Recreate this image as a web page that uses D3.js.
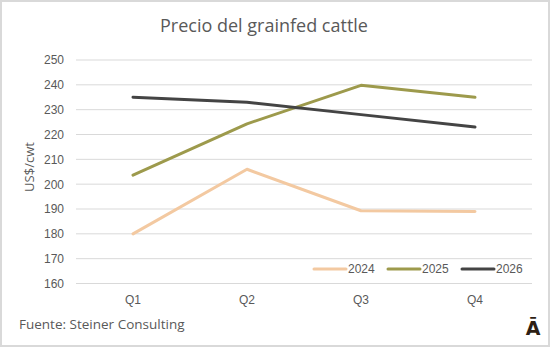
<!DOCTYPE html>
<html>
<head>
<meta charset="utf-8">
<script src="https://cdn.jsdelivr.net/npm/d3@7"></script>
<style>
  body { margin: 0; background: #fff; }
  svg { display: block; font-family: "Open Sans", "Noto Sans", sans-serif; }
</style>
</head>
<body>
<div id="chart"></div>
<script>
// chart values
var quarters = ["Q1", "Q2", "Q3", "Q4"];
var seriesNames = ["2024", "2025", "2026"];
var values2024 = [180, 206, 189.3, 189];
var values2025 = [203.6, 224.3, 239.8, 235];
var values2026 = [235, 233, 228, 223];
var yTicks = [160, 170, 180, 190, 200, 210, 220, 230, 240, 250];

var colors = ["#f3c9a1", "#9d9a4c", "#444444"];
var allValues = [values2024, values2025, values2026];

var width = 550, height = 347;
var svg = d3.select("#chart").append("svg")
    .attr("width", width)
    .attr("height", height);

// frame
svg.append("rect")
    .attr("x", 1).attr("y", 1)
    .attr("width", width - 2).attr("height", height - 2)
    .attr("fill", "#fff")
    .attr("stroke", "#d9d9d9")
    .attr("stroke-width", 2);

var x = d3.scaleBand().domain(quarters).range([76, 532]);
var y = d3.scaleLinear().domain([160, 250]).range([283.5, 60]);

// gridlines
svg.append("g").selectAll("line")
    .data(yTicks)
    .enter().append("line")
      .attr("x1", 76).attr("x2", 532)
      .attr("y1", function(d) { return y(d); })
      .attr("y2", function(d) { return y(d); })
      .attr("stroke", "#d9d9d9")
      .attr("stroke-width", 1);

// y axis labels
var yAxis = d3.axisLeft(y).tickValues(yTicks).tickSize(0).tickPadding(12);
var gy = svg.append("g").attr("transform", "translate(76,0)").call(yAxis);
gy.select(".domain").remove();
gy.selectAll("text")
    .attr("fill", "#595959")
    .style("font-size", "12px")
    .style("font-family", "Liberation Sans, Arial, sans-serif");

// x axis labels
var xAxis = d3.axisBottom(x).tickSize(0).tickPadding(11);
var gx = svg.append("g").attr("transform", "translate(0,284)").call(xAxis);
gx.select(".domain").remove();
gx.selectAll("text")
    .attr("fill", "#595959")
    .style("font-size", "12px")
    .style("font-family", "Liberation Sans, Arial, sans-serif");

// lines
var line = d3.line()
    .x(function(d, i) { return x(quarters[i]) + x.bandwidth() / 2; })
    .y(function(d) { return y(d); });

svg.append("g").selectAll("path")
    .data(allValues)
    .enter().append("path")
      .attr("d", line)
      .attr("fill", "none")
      .attr("stroke", function(d, i) { return colors[i]; })
      .attr("stroke-width", 3)
      .attr("stroke-linejoin", "round")
      .attr("stroke-linecap", "round");

// legend
var legend = svg.append("g").attr("transform", "translate(314,269)");
var item = legend.selectAll("g")
    .data(seriesNames)
    .enter().append("g")
      .attr("transform", function(d, i) { return "translate(" + (i * 74) + ",0)"; });
item.append("line")
    .attr("x1", 0).attr("x2", 32)
    .attr("stroke", function(d, i) { return colors[i]; })
    .attr("stroke-width", 3)
    .attr("stroke-linecap", "round");
item.append("text")
    .attr("x", 34).attr("dy", "0.35em")
    .attr("fill", "#595959")
    .style("font-size", "12px")
    .style("font-family", "Liberation Sans, Arial, sans-serif")
    .text(function(d) { return d; });

// title
svg.append("text")
    .attr("x", 264).attr("y", 32)
    .attr("text-anchor", "middle")
    .attr("fill", "#595959")
    .style("font-size", "18px")
    .text("Precio del grainfed cattle");

// y axis title
svg.append("text")
    .attr("transform", "translate(34,167) rotate(-90)")
    .attr("text-anchor", "middle")
    .attr("fill", "#595959")
    .style("font-size", "13px")
    .text("US$/cwt");

// source
svg.append("text")
    .attr("x", 19).attr("y", 329)
    .attr("fill", "#595959")
    .style("font-size", "13.5px")
    .text("Fuente: Steiner Consulting");

// logo mark
svg.append("text")
    .attr("x", 533).attr("y", 335)
    .attr("text-anchor", "middle")
    .attr("fill", "#2e1f14")
    .style("font-size", "19px")
    .style("font-weight", "bold")
    .style("font-family", "DejaVu Sans, sans-serif")
    .text("Ā");
</script>
</body>
</html>
